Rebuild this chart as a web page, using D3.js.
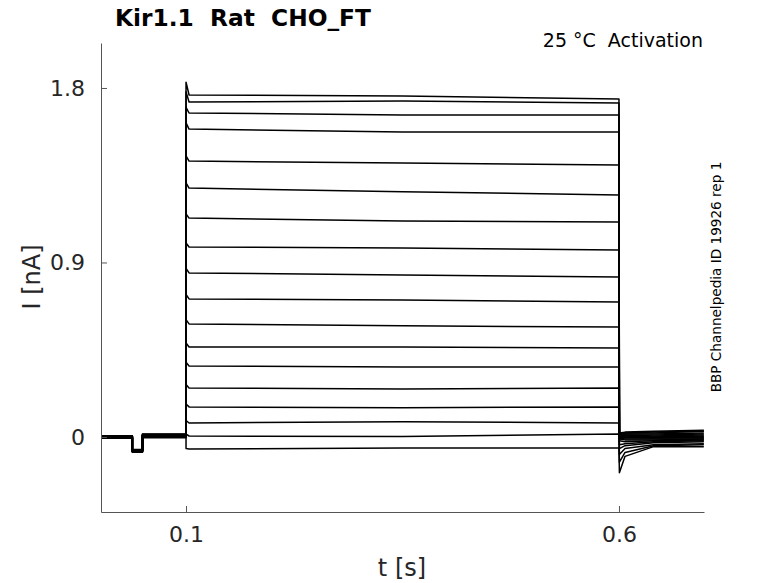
<!DOCTYPE html>
<html>
<head>
<meta charset="utf-8">
<script src="https://cdn.jsdelivr.net/npm/d3@7"></script>
<style>
  body { margin: 0; background: #fff; }
  text { font-family: "DejaVu Sans", sans-serif; }
</style>
</head>
<body>
<svg id="chart" width="778" height="583"></svg>
<script>
// current levels in nA, one entry per sweep (top sweep first)
const holdPre   = [0.004, -0.002, 0.006, 0.0, -0.004, 0.002, -0.006, 0.003, -0.001, 0.005, -0.003, 0.001, -0.007, 0.004, -0.002, 0.0, -0.005, 0.002];
const holdDip   = [-0.068, -0.072, -0.066, -0.075, -0.07, -0.078, -0.069, -0.073, -0.067, -0.076, -0.071, -0.074, -0.065, -0.079, -0.07, -0.072, -0.068, -0.075];
const holdPost  = [0.012, 0.004, 0.015, 0.002, 0.008, -0.002, 0.01, 0.006, 0.0, 0.014, 0.003, 0.009, -0.004, 0.011, 0.005, 0.001, 0.007, 0.004];
const stepPeak  = [1.83, 1.78, 1.70, 1.62, 1.45, 1.31, 1.15, 1.00, 0.87, 0.735, 0.605, 0.485, 0.385, 0.27, 0.17, 0.085, 0.015, -0.06];
const stepStart = [1.764, 1.728, 1.671, 1.588, 1.423, 1.284, 1.129, 0.980, 0.846, 0.712, 0.583, 0.464, 0.366, 0.253, 0.155, 0.072, 0.005, -0.062];
const stepMid   = [1.759, 1.733, 1.661, 1.573, 1.413, 1.265, 1.114, 0.975, 0.836, 0.706, 0.573, 0.464, 0.361, 0.248, 0.151, 0.079, 0.002, -0.057];
const stepEnd   = [1.743, 1.722, 1.661, 1.573, 1.403, 1.248, 1.109, 0.964, 0.825, 0.696, 0.567, 0.459, 0.361, 0.253, 0.155, 0.072, 0.015, -0.057];
const tailStart = [0.02, 0.02, 0.015, 0.015, 0.01, 0.01, 0.005, 0.005, 0.0, 0.0, -0.005, -0.01, -0.02, -0.04, -0.06, -0.09, -0.13, -0.185];
const tailEarly = [0.025, 0.02, 0.02, 0.015, 0.01, 0.01, 0.005, 0.0, 0.0, -0.005, -0.01, -0.015, -0.025, -0.035, -0.045, -0.06, -0.08, -0.1];
const tailSettle = [0.03, 0.025, 0.02, 0.015, 0.01, 0.005, 0.0, 0.0, -0.005, -0.005, -0.01, -0.015, -0.02, -0.025, -0.03, -0.04, -0.045, -0.05];
const tailEnd   = [0.035, 0.03, 0.03, 0.02, 0.015, 0.01, 0.005, 0.0, 0.0, -0.005, -0.01, -0.01, -0.015, -0.02, -0.025, -0.035, -0.04, -0.05];

// time nodes in s matching the levels above
const tNodes = [0.002, 0.038, 0.038, 0.0497, 0.0497, 0.1, 0.1, 0.1035, 0.35, 0.6, 0.6005, 0.607, 0.64, 0.698];

const xTicks = [0.1, 0.6];
const yTicks = [0, 0.9, 1.8];

const svg = d3.select("#chart");

const x = d3.scaleLinear().domain([0.0018, 0.6982]).range([101, 704]);
const y = d3.scaleLinear().domain([-0.387, 2.032]).range([512, 43]);

// build one sweep as [t, I] pairs
const sweeps = stepStart.map(function (d, i) {
    const vals = [holdPre[i], holdPre[i], holdDip[i], holdDip[i], holdPost[i], holdPost[i],
        stepPeak[i], stepStart[i], stepMid[i], stepEnd[i],
        tailStart[i], tailEarly[i], tailSettle[i], tailEnd[i]];
    return tNodes.map((t, k) => [t, vals[k]]);
});

const line = d3.line()
    .x(d => x(d[0]))
    .y(d => y(d[1]));

svg.append("g")
    .selectAll("path")
    .data(sweeps)
    .join("path")
    .attr("d", line)
    .attr("fill", "none")
    .attr("stroke", "#000")
    .attr("stroke-width", 1.5)
    .attr("stroke-linejoin", "round");

// AXES
const xAxis = svg.append("g")
    .attr("transform", "translate(0,512)")
    .call(d3.axisBottom(x).tickValues(xTicks).tickFormat(d3.format(".1f"))
        .tickSizeInner(-6).tickSizeOuter(0).tickPadding(14));

const yAxis = svg.append("g")
    .attr("transform", "translate(101,0)")
    .call(d3.axisLeft(y).tickValues(yTicks).tickFormat(d => d === 0 ? "0" : d3.format(".1f")(d))
        .tickSizeInner(-6).tickSizeOuter(0).tickPadding(16));

[xAxis, yAxis].forEach(function (g) {
    g.select(".domain").attr("stroke", "#555").attr("stroke-width", 1);
    g.selectAll(".tick line").attr("stroke", "#555");
    g.selectAll(".tick text")
        .attr("fill", "#262626")
        .style("font-size", "22px")
        .style("font-family", "DejaVu Sans, sans-serif");
});

// LABELS
svg.append("text")
    .attr("x", 115).attr("y", 26)
    .style("font-size", "23.3px").style("font-weight", "bold")
    .style("white-space", "pre")
    .text("Kir1.1  Rat  CHO_FT");

svg.append("text")
    .attr("x", 703).attr("y", 47)
    .attr("text-anchor", "end")
    .style("font-size", "19px")
    .style("white-space", "pre")
    .text("25 °C  Activation");

svg.append("text")
    .attr("x", 402).attr("y", 576)
    .attr("text-anchor", "middle")
    .attr("fill", "#262626")
    .style("font-size", "24px")
    .text("t [s]");

svg.append("text")
    .attr("transform", "translate(40,277) rotate(-90)")
    .attr("text-anchor", "middle")
    .attr("fill", "#262626")
    .style("font-size", "24px")
    .text("I [nA]");

svg.append("text")
    .attr("transform", "translate(721,277) rotate(-90)")
    .attr("text-anchor", "middle")
    .style("font-size", "13.6px")
    .text("BBP Channelpedia ID 19926 rep 1");
</script>
</body>
</html>
